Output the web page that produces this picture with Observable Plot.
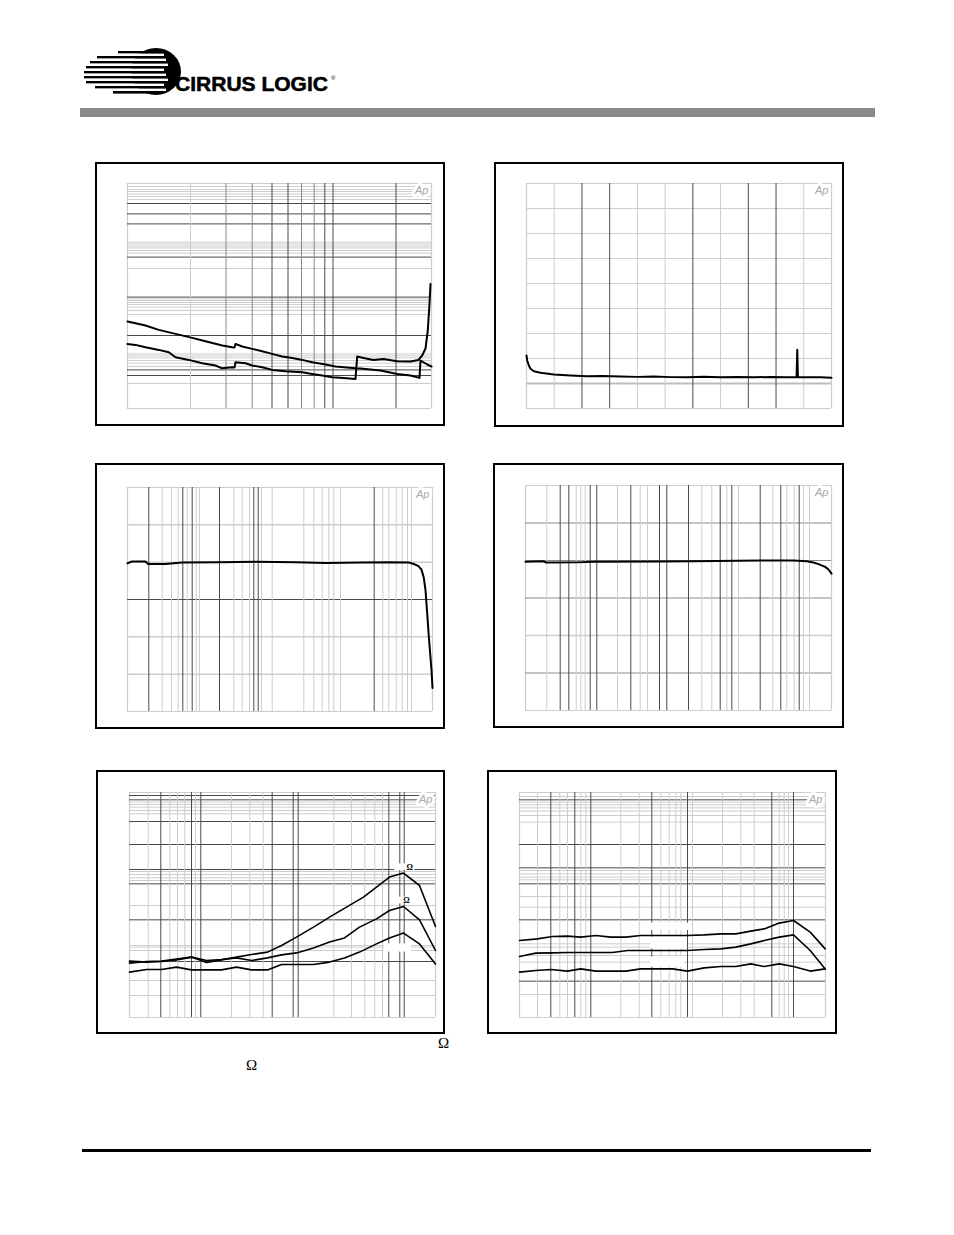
<!DOCTYPE html>
<html><head><meta charset="utf-8">
<script src="https://cdn.jsdelivr.net/npm/d3@7"></script>
<script src="https://cdn.jsdelivr.net/npm/@observablehq/plot@0.6"></script>
<style>
html,body{margin:0;padding:0;background:#fff;}
#page{position:relative;width:954px;height:1235px;overflow:hidden;background:#fff;font-family:"Liberation Sans",Arial,sans-serif;}
.omega{position:absolute;font-family:"Liberation Serif","Times New Roman",serif;font-size:15px;line-height:15px;color:#000;}
</style></head><body><div id="page"></div>
<script>
// ---------- Chart 1: THD+N vs frequency (x: log10 Hz, y: dB) ----------
const c1GridXLight = [1.93];
const c1GridXMid = [2.285, 2.547, 3.04, 3.167];
const c1GridXDark = [2.745, 2.905, 3.273, 3.355, 3.985];
const c1GridYLight = [-1.5, -3, -4, -5.25, -6.5, -8, -29.3, -30.2, -31.2, -32.2, -33.5, -34.8, -42.5,
  -57.7, -58.5, -59.5, -60.5, -61.8, -63.5, -65.5, -85.2, -86.2, -87.2, -88.5, -89.8, -91.5, -100];
const c1GridYDark = [-10, -15.2, -20.2, -36.8, -56.8, -76, -93.2, -96];
const c1SeriesA = [[1.30,-69],[1.38,-69.9],[1.48,-71],[1.613,-73.2],[1.78,-75.2],[1.947,-77.2],[2.08,-78.9],
  [2.247,-81],[2.347,-81.9],[2.37,-82],[2.38,-80.2],[2.447,-81.5],[2.547,-82.7],[2.647,-83.9],[2.747,-85.2],
  [2.847,-86.5],[2.947,-87.2],[3.047,-88.2],[3.147,-89.4],[3.28,-90.5],[3.38,-91.5],[3.58,-92.4],[3.63,-92.5],
  [3.83,-93.5],[3.997,-95.2],[4.13,-96],[4.22,-97.2],[4.23,-88.5],[4.297,-90.5],[4.34,-91.5]];
const c1SeriesB = [[1.30,-80.2],[1.38,-80.7],[1.48,-81.9],[1.613,-83.2],[1.713,-84.4],[1.78,-86.9],[1.913,-88.2],
  [2.047,-89.9],[2.18,-91],[2.247,-92.4],[2.347,-91.9],[2.37,-92],[2.38,-89.4],[2.48,-89.9],[2.547,-91],
  [2.647,-91.9],[2.747,-93.2],[2.88,-93.9],[3.047,-94.4],[3.147,-95.2],[3.247,-96],[3.347,-96.9],[3.46,-97.2],
  [3.58,-97.7],[3.597,-86.5],[3.66,-87.2],[3.76,-88.2],[3.86,-87.7],[3.997,-88.9],[4.13,-89],[4.21,-88.2],
  [4.247,-86],[4.28,-82.5],[4.303,-73.5],[4.32,-60],[4.33,-50.2]];

// ---------- Chart 2: FFT (x: kHz, y: dB) ----------
const c2GridXDark = [4, 6, 12, 16, 18];
const c2GridXLight = [2, 8, 10, 14, 20];
const c2GridYLight = [-140, -120, -100, -80, -60, -40, -20];
const c2GridYMid = [-160];
const c2Trace = [[0,-137.6],[0.05,-141.6],[0.17,-145.6],[0.29,-148.2],[0.53,-150.2],[1.01,-151.4],[1.97,-152.8],
  [3.17,-153.6],[4.38,-154.2],[5.5,-154.0],[6.78,-154.4],[8.0,-154.7],[9.18,-154.4],[10.4,-154.9],[11.59,-155],
  [12.8,-154.6],[13.99,-155],[15.2,-154.8],[16.4,-155],[17.6,-154.8],[18.8,-155],[19.48,-155],[19.53,-133],
  [19.58,-155],[20.4,-154.9],[21.2,-155],[22,-155.4]];

// ---------- Chart 3: frequency response (x: log10 Hz, y: dB) ----------
const c3GridXDark = [1.513, 1.853, 1.947, 2.22, 2.563, 2.607, 3.767];
const c3GridXLight = [1.647, 1.74, 1.807, 1.897, 1.987, 2.02, 2.363, 2.447, 2.52, 2.64, 2.747, 3.063, 3.163,
  3.247, 3.313, 3.363, 3.43, 3.853, 3.913, 3.987, 4.047, 4.1, 4.14];
const c3GridYDark = [-1];
const c3GridYLight = [1, 0, -2, -3];
const c3Response = [[1.30,-0.03],[1.347,0.02],[1.48,0.02],[1.507,-0.05],[1.68,-0.05],[1.847,-0.01],[2.213,0],
  [2.58,0.01],[2.98,0],[3.283,-0.02],[3.647,-0.01],[3.913,0],[4.113,-0.01],[4.163,-0.05],[4.207,-0.1],
  [4.24,-0.2],[4.263,-0.42],[4.28,-0.75],[4.297,-1.37],[4.313,-1.99],[4.34,-2.885],[4.35,-3.37]];

// ---------- Chart 4: frequency response (x: log10 Hz, y: dB) ----------
const c4GridXDark = [1.647, 1.733, 1.947, 2.013, 2.353, 2.64, 2.713, 2.93, 3.247, 3.363, 3.647, 3.853, 4.037];
const c4GridXLight = [1.513, 1.807, 1.853, 1.897, 2.22, 2.447, 2.52, 3.063, 3.163, 3.313, 3.43, 3.773, 3.913,
  3.987, 4.08, 4.14];
const c4GridYDark = [1, 0, -1, -3];
const c4GridYLight = [-2];
const c4Response = [[1.30,-0.035],[1.48,-0.02],[1.507,-0.053],[1.813,-0.05],[1.98,-0.035],[2.647,-0.027],
  [2.98,-0.02],[3.647,0],[3.98,0],[4.113,-0.02],[4.18,-0.053],[4.23,-0.098],[4.297,-0.17],[4.33,-0.24],[4.36,-0.35]];

// ---------- Chart 5: THD+N vs frequency, three loads (x: log10 Hz, y: dB) ----------
const c5GridXDark = [1.613, 1.92, 2.013, 2.727, 2.937, 2.987, 3.893, 4.003, 4.047];
const c5GridXLight = [1.487, 1.703, 1.78, 1.853, 1.96, 2.32, 2.503, 2.637, 3.343, 3.52, 3.653, 3.753, 3.83];
const c5GridYDark = [-1.5, -3.67, -14.5, -26, -38.5, -45.67, -63.67, -84.5];
const c5GridYLight = [-4.83, -6, -7.33, -9, -10.67, -39.5, -41, -42.67, -44, -56.5, -76.5, -77.33, -79, -94, -101.5];
const c5Top = [[1.30,-85.3],[1.47,-84.5],[1.62,-84.3],[1.77,-83.3],[1.92,-82.3],[2.07,-85.0],[2.22,-83.7],
  [2.37,-82.3],[2.52,-81.0],[2.68,-79.8],[2.82,-76.5],[2.97,-72.3],[3.14,-67.3],[3.30,-62.3],[3.47,-57.3],
  [3.64,-52.3],[3.77,-47.3],[3.90,-42.3],[4.04,-40.3],[4.20,-46.5],[4.36,-67.0]];
const c5Mid = [[1.30,-84.3],[1.47,-84.8],[1.62,-84.5],[1.77,-83.7],[1.92,-82.3],[2.07,-84.0],[2.22,-83.5],
  [2.37,-82.7],[2.52,-84.0],[2.68,-82.7],[2.82,-81.2],[2.97,-80.2],[3.14,-77.7],[3.30,-74.8],[3.45,-72.7],
  [3.60,-67.3],[3.77,-63.2],[3.90,-59.0],[4.04,-57.0],[4.20,-63.7],[4.36,-79.0]];
const c5Low = [[1.30,-89.8],[1.47,-88.5],[1.62,-88.5],[1.77,-87.3],[1.92,-88.7],[2.07,-88.7],[2.22,-88.7],
  [2.37,-87.3],[2.52,-88.7],[2.68,-88.7],[2.82,-86.0],[2.97,-86.0],[3.14,-86.0],[3.30,-84.8],[3.45,-82.7],
  [3.60,-79.8],[3.77,-75.7],[3.90,-72.7],[4.04,-70.3],[4.20,-75.7],[4.36,-85.7]];
const c5LabelText = ["Ω", "Ω"];
const c5LabelX = [4.103, 4.07];
const c5LabelY = [-37.3, -54];
const c5Boxes = [[3.953, 4.153, -35.7, -39.0], [3.953, 4.137, -52.3, -55.7], [3.85, 4.12, -75.7, -79.8]];

// ---------- Chart 6: THD+N vs frequency, three levels (x: log10 Hz, y: dB) ----------
const c6GridXDark = [1.613, 1.853, 2.013, 2.623, 2.98, 3.823, 4.04];
const c6GridXLight = [1.48, 1.703, 1.78, 1.913, 1.963, 2.313, 2.497, 2.713, 2.797, 2.863, 2.913, 3.03, 3.33,
  3.513, 3.647, 3.897, 3.947, 3.99];
const c6GridYDark = [-3.67, -26, -37.67, -45.67, -63.67, -94.33];
const c6GridYLight = [-2, -4.83, -6.17, -7.67, -9.33, -11.5, -14.83, -39, -40.67, -42.33, -43.67, -52, -57.33,
  -75.67, -77.33, -81.5, -84.83, -101];
const c6Top = [[1.30,-74],[1.48,-73.2],[1.63,-72],[1.78,-71.8],[1.913,-72.3],[2.063,-71.5],[2.213,-72.3],
  [2.363,-72.3],[2.513,-71.5],[2.663,-71.5],[2.83,-71.5],[2.98,-71.5],[3.147,-71.2],[3.313,-70.7],[3.463,-70.7],
  [3.613,-69.3],[3.747,-68.2],[3.897,-65.3],[4.04,-64],[4.207,-69.8],[4.357,-78.2]];
const c6Mid = [[1.30,-82],[1.463,-80.3],[1.63,-80.2],[1.78,-80],[1.93,-80],[2.08,-80],[2.23,-80],[2.38,-79],
  [2.53,-79],[2.68,-79],[2.83,-79],[2.98,-79],[3.147,-78.5],[3.313,-78.2],[3.463,-77.3],[3.613,-75.7],
  [3.747,-74],[3.897,-72.3],[4.04,-71.2],[4.207,-79],[4.357,-88.2]];
const c6Low = [[1.30,-89.8],[1.463,-89],[1.613,-88.5],[1.78,-89.3],[1.913,-88.2],[2.063,-89.3],[2.213,-89.3],
  [2.363,-89.3],[2.513,-88.2],[2.68,-88.2],[2.83,-88.2],[2.98,-89.3],[3.147,-87.7],[3.313,-87],[3.463,-87],
  [3.613,-85.7],[3.747,-87],[3.897,-85.7],[4.04,-87],[4.207,-89.3],[4.357,-88.2]];
const c6Boxes = [[2.613, 2.997, -65.3, -69], [2.613, 2.98, -72.3, -78.2], [2.613, 2.947, -82.3, -87.3]];

// ---------- page furniture ----------
const page = document.getElementById("page");
const DARK = "#4a4a4a", MID = "#8a8a8a", LIGHT = "#cdcdcd";

function addBlock(css) {
  const d = document.createElement("div");
  d.style.position = "absolute";
  Object.assign(d.style, css);
  page.appendChild(d);
  return d;
}

// logo
const logoNS = "http://www.w3.org/2000/svg";
const logo = document.createElementNS(logoNS, "svg");
logo.setAttribute("width", "270"); logo.setAttribute("height", "70");
logo.style.position = "absolute"; logo.style.left = "80px"; logo.style.top = "40px";
const stripeLeft = [38, 17, 10, 6, 4, 4, 6, 15, 33];
let inner = `<ellipse cx="76" cy="31.5" rx="25" ry="23.5" fill="#000"/>`;
stripeLeft.forEach((l, i) => {
  const y = 11 + i * 5;
  inner += `<rect x="${l}" y="${y}" width="${80 - l}" height="2.6" fill="#000"/>`;
  if (i < stripeLeft.length - 1) inner += `<rect x="${l}" y="${y + 2.6}" width="${84 - l + (i % 3) * 2}" height="2.4" fill="#fff"/>`;
});
inner += `<text x="95" y="50.5" font-family="'Liberation Sans Narrow','Liberation Sans',Arial,sans-serif" font-weight="bold" font-size="19.5" textLength="153" lengthAdjust="spacingAndGlyphs" fill="#000" stroke="#000" stroke-width="0.5">CIRRUS LOGIC</text>`;
inner += `<text x="251" y="40" font-family="'Liberation Sans',Arial,sans-serif" font-size="6" fill="#000">®</text>`;
logo.innerHTML = inner;
page.appendChild(logo);

addBlock({left: "80px", top: "108px", width: "795px", height: "9px", background: "#8a8a8a"});
addBlock({left: "82px", top: "1149px", width: "789px", height: "3px", background: "#000"});

// ---------- chart builder ----------
const px = d => d[0], py = d => d[1];
function chart({frame, box, xd, yd, marks}) {
  const [fx, fy, fw, fh] = frame, [x0, y0, x1, y1] = box;
  const svg = Plot.plot({
    width: fw, height: fh,
    marginLeft: x0 - fx, marginTop: y0 - fy, marginRight: fx + fw - x1, marginBottom: fy + fh - y1,
    x: {domain: xd, axis: null}, y: {domain: yd, axis: null},
    style: {background: "transparent", overflow: "visible"},
    marks: [
      Plot.ruleX(xd, {stroke: LIGHT, strokeWidth: 1.2}),
      Plot.ruleY(yd, {stroke: LIGHT, strokeWidth: 1.2}),
      ...marks,
    ]
  });
  svg.style.position = "absolute";
  svg.style.left = fx + "px"; svg.style.top = fy + "px";
  page.appendChild(svg);
  addBlock({left: fx + "px", top: fy + "px", width: fw + "px", height: fh + "px", border: "2px solid #000", boxSizing: "border-box"});
}
const ap = () => Plot.text(["Ap"], {frameAnchor: "top-right", text: d => d, dx: -3, dy: 3, textAnchor: "end", lineAnchor: "top",
  fill: "#a8a8a8", stroke: "white", strokeWidth: 6, fontSize: 11, fontStyle: "italic", fontFamily: "Liberation Sans, Arial, sans-serif"});
const gx = (arr, c, w = 1) => Plot.ruleX(arr, {stroke: c, strokeWidth: w});
const gy = (arr, c, w = 1) => Plot.ruleY(arr, {stroke: c, strokeWidth: w});
const curve = (arr, w = 2) => Plot.line(arr, {x: px, y: py, stroke: "#000", strokeWidth: w, strokeLinejoin: "round"});
const boxes = arr => Plot.rect(arr, {x1: d => d[0], x2: d => d[1], y1: d => d[2], y2: d => d[3], fill: "white"});

chart({frame: [95, 162, 350, 264], box: [127, 183, 431, 408], xd: [1.30, 4.34], yd: [-112.5, 0], marks: [
  gy(c1GridYLight, LIGHT), gy(c1GridYDark, DARK),
  gx(c1GridXLight, LIGHT), gx(c1GridXMid, MID), gx(c1GridXDark, DARK),
  ap(), curve(c1SeriesA), curve(c1SeriesB)
]});
chart({frame: [494, 162, 350, 265], box: [526, 183, 831, 408], xd: [0, 22], yd: [-180, 0], marks: [
  gy(c2GridYLight, LIGHT), gy(c2GridYMid, "#bdbdbd", 2),
  gx(c2GridXLight, LIGHT), gx(c2GridXDark, DARK),
  ap(), curve(c2Trace)
]});
chart({frame: [95, 463, 350, 266], box: [127, 487, 432, 711], xd: [1.30, 4.35], yd: [-4, 2], marks: [
  gy(c3GridYLight, LIGHT, 1.5), gy(c3GridYDark, DARK),
  gx(c3GridXLight, LIGHT), gx(c3GridXDark, DARK),
  ap(), curve(c3Response)
]});
chart({frame: [493, 463, 351, 265], box: [525, 485, 831, 710], xd: [1.30, 4.36], yd: [-4, 2], marks: [
  gy(c4GridYLight, LIGHT, 1.5), gy(c4GridYDark, MID),
  gx(c4GridXLight, LIGHT), gx(c4GridXDark, DARK),
  ap(), curve(c4Response)
]});
chart({frame: [96, 770, 349, 264], box: [129, 792, 435, 1017], xd: [1.30, 4.36], yd: [-112.5, 0], marks: [
  gy(c5GridYLight, LIGHT), gy(c5GridYDark, DARK),
  gx(c5GridXLight, LIGHT), gx(c5GridXDark, DARK),
  boxes(c5Boxes), ap(),
  curve(c5Top, 1.6), curve(c5Mid, 1.6), curve(c5Low, 1.6),
  Plot.text(c5LabelText, {x: (d, i) => c5LabelX[i], y: (d, i) => c5LabelY[i], text: d => d, fontSize: 8,
    fontWeight: "bold", fontFamily: "Liberation Serif, serif", fill: "#000"})
]});
chart({frame: [487, 770, 350, 264], box: [519, 792, 825, 1017], xd: [1.30, 4.36], yd: [-112.5, 0], marks: [
  gy(c6GridYLight, LIGHT), gy(c6GridYDark, DARK),
  gx(c6GridXLight, LIGHT), gx(c6GridXDark, DARK),
  boxes(c6Boxes), ap(),
  curve(c6Top, 1.6), curve(c6Mid, 1.6), curve(c6Low, 1.6)
]});

// caption symbols that remain visible under the bottom-left chart
const om1 = addBlock({left: "438px", top: "1036px"}); om1.className = "omega"; om1.textContent = "Ω";
const om2 = addBlock({left: "246px", top: "1058px"}); om2.className = "omega"; om2.textContent = "Ω";
</script>
</body></html>
